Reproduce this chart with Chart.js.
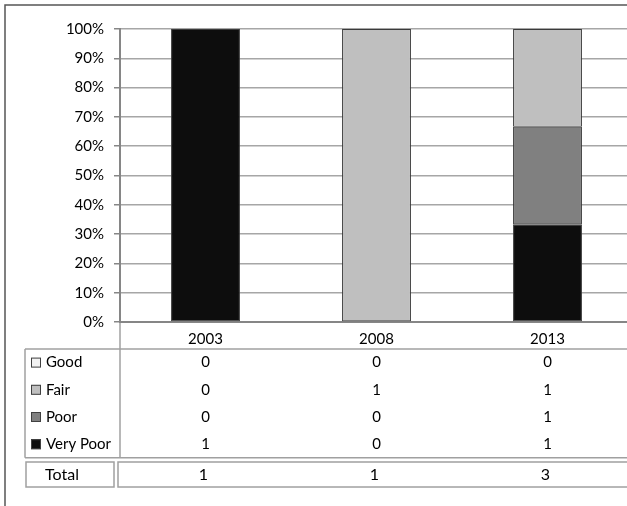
<!DOCTYPE html>
<html>
<head>
<meta charset="utf-8">
<script src="https://cdn.jsdelivr.net/npm/chart.js@4.4.1/dist/chart.umd.min.js"></script>
<style>
  html, body { margin: 0; padding: 0; overflow: hidden; background: #fff; }
</style>
</head>
<body>
<canvas id="myChart" width="640" height="520"></canvas>
<script>
const years = ["2003", "2008", "2013"];
const ratings = ["Good", "Fair", "Poor", "Very Poor"];
const good = [0, 0, 0];
const fair = [0, 1, 1];
const poor = [0, 0, 1];
const veryPoor = [1, 0, 1];

const colors = { "Good": "#f2f2f2", "Fair": "#bfbfbf", "Poor": "#808080", "Very Poor": "#0d0d0d" };
const counts = { "Good": good, "Fair": fair, "Poor": poor, "Very Poor": veryPoor };
const totals = years.map((y, i) => good[i] + fair[i] + poor[i] + veryPoor[i]);

// share of each year's total, 0 left out so no empty bar gets a border
function pct(arr) {
  return arr.map((v, i) => v ? v / totals[i] * 100 : null);
}

const stackOrder = ["Very Poor", "Poor", "Fair", "Good"];
const datasets = stackOrder.map(name => ({
  label: name,
  data: pct(counts[name]),
  backgroundColor: colors[name],
  borderColor: "#3a3a3a",
  borderWidth: 1,
  borderSkipped: false,
  categoryPercentage: 1,
  barPercentage: 0.403
}));

const font = "Lato";

const tablePlugin = {
  id: "dataTable",
  afterDraw(chart) {
    const ctx = chart.ctx;
    const xs = chart.scales.x;
    const area = chart.chartArea;
    const line = (x1, y1, x2, y2) => {
      ctx.beginPath(); ctx.moveTo(x1, y1); ctx.lineTo(x2, y2); ctx.stroke();
    };
    ctx.save();
    // outer frame
    ctx.strokeStyle = "#555555";
    ctx.lineWidth = 1.5;
    ctx.strokeRect(5, 5, 700, 700);

    // table grid
    ctx.strokeStyle = "#a0a0a0";
    ctx.lineWidth = 1.5;
    const top = 349, rowH = 27.2, bottom = top + rowH * 4;
    line(25, top, 640, top);
    line(25, bottom, 640, bottom);
    line(25, top, 25, bottom);
    line(area.left, area.bottom + 1, area.left, bottom);
    ctx.strokeRect(26, 462, 88, 25);
    ctx.strokeRect(118, 462, 600, 25);

    ctx.fillStyle = "#000";
    ctx.textBaseline = "middle";
    ctx.font = "15px " + font;
    ratings.forEach((name, r) => {
      const cy = top + rowH / 2 + r * rowH;
      ctx.fillStyle = colors[name];
      ctx.fillRect(31, cy - 5, 10, 10);
      ctx.strokeStyle = "#404040";
      ctx.lineWidth = 1;
      ctx.strokeRect(31.5, cy - 4.5, 9, 9);
      ctx.fillStyle = "#000";
      ctx.textAlign = "left";
      ctx.fillText(name, 46, cy);
      ctx.textAlign = "center";
      years.forEach((y, i) => {
        ctx.fillText(String(counts[name][i]), xs.getPixelForValue(i), cy);
      });
    });

    ctx.font = "16px " + font;
    ctx.textAlign = "center";
    ctx.fillText("Total", 62, 475);
    years.forEach((y, i) => {
      ctx.fillText(String(totals[i]), xs.getPixelForValue(i) - 2, 475);
    });
    ctx.restore();
  }
};

const config = {
  type: "bar",
  data: { labels: years, datasets: datasets },
  options: {
    responsive: false,
    animation: false,
    layout: { padding: { top: 29, left: 0, right: 7, bottom: 171 } },
    plugins: {
      legend: { display: false },
      tooltip: { enabled: false }
    },
    scales: {
      x: {
        stacked: true,
        grid: { display: false, drawTicks: false },
        border: { display: true, color: "#868686", width: 2 },
        ticks: { color: "#000", font: { family: font, size: 15 }, padding: 8 },
        afterFit: s => { s.height = 27; }
      },
      y: {
        stacked: true,
        min: 0,
        max: 100,
        ticks: {
          stepSize: 10,
          color: "#000",
          padding: 10,
          font: { family: font, size: 15 },
          callback: v => v + "%"
        },
        grid: { color: "#a6a6a6", lineWidth: 1.5, tickLength: 6, tickColor: "#868686" },
        border: { display: true, color: "#868686", width: 2 },
        afterFit: s => { s.width = 120; }
      }
    }
  },
  plugins: [tablePlugin]
};

var myChart = new Chart(document.getElementById("myChart"), config);
</script>
</body>
</html>
